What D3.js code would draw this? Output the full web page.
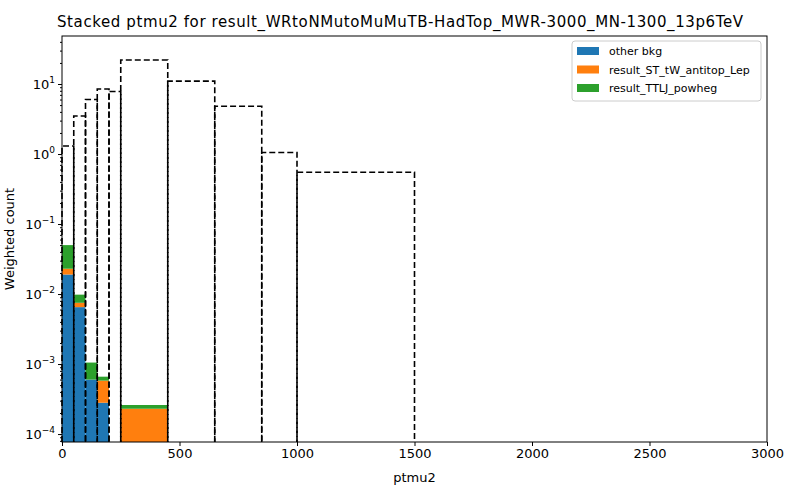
<!DOCTYPE html>
<html><head><meta charset="utf-8">
<script src="https://cdn.jsdelivr.net/npm/d3@7"></script>
<style>body{margin:0;background:#fff;font-family:"DejaVu Sans",sans-serif;}</style>
</head><body><svg id="c" width="800" height="500"></svg>
<script>
const edges = [0, 50, 100, 150, 200, 250, 450, 650, 850, 1000, 1500, 3000];
const otherBkg = [0.019, 0.0065, 0.0006, 0.00028, 0, 0, 0, 0, 0, 0, 0];
const stTW = [0.004, 0.001, 0, 0.0003, 0, 0.00023, 0, 0, 0, 0, 0];
const ttlj = [0.027, 0.0023, 0.00045, 0.00008, 0, 0.00003, 0, 0, 0, 0, 0];
const signal = [1.3, 3.5, 6, 8.5, 7.8, 22, 11, 4.8, 1.05, 0.55, 0];
const seriesNames = ['other bkg', 'result_ST_tW_antitop_Lep', 'result_TTLJ_powheg'];
const colors = ['#1f77b4', '#ff7f0e', '#2ca02c'];

const m = { top: 36, right: 33, bottom: 58, left: 62 };
const W = 800, H = 500;
const svg = d3.select('#c');
const x = d3.scaleLinear().domain([0, 3000]).range([m.left, W - m.right]);
const yMin = 7.7e-5;
const y = d3.scaleLog().domain([yMin, 48.5]).range([H - m.bottom, m.top]);

// stacked bars
const series = [otherBkg, stTW, ttlj];
const base = edges.slice(0, -1).map(() => 0);
series.forEach((vals, s) => {
  vals.forEach((v, i) => {
    if (v <= 0) return;
    const lo = base[i], hi = lo + v;
    base[i] = hi;
    const y0 = lo > 0 ? y(lo) : H - m.bottom;
    svg.append('rect')
      .attr('x', x(edges[i])).attr('width', x(edges[i + 1]) - x(edges[i]))
      .attr('y', y(hi)).attr('height', y0 - y(hi))
      .attr('fill', colors[s]);
  });
});

// signal outlines
signal.forEach((v, i) => {
  if (v <= 0) return;
  const xl = x(edges[i]), xr = x(edges[i + 1]), yb = y(yMin), yt = y(v);
  svg.append('path')
    .attr('d', `M${xl},${yb}V${yt}H${xr}V${yb}`)
    .attr('fill', 'none').attr('stroke', '#000')
    .attr('stroke-width', 1.6).attr('stroke-dasharray', '6,3');
});

// axes
const xa = svg.append('g').attr('transform', `translate(0,${H - m.bottom})`)
  .call(d3.axisBottom(x).tickValues([0, 500, 1000, 1500, 2000, 2500, 3000]).tickFormat(d3.format('d')).tickSizeOuter(0).tickSize(4));
const ya = svg.append('g').attr('transform', `translate(${m.left},0)`)
  .call(d3.axisLeft(y).ticks(10).tickFormat('').tickSizeOuter(0).tickSize(2));
const majors = [-4, -3, -2, -1, 0, 1];
const yb = svg.append('g').attr('transform', `translate(${m.left},0)`)
  .call(d3.axisLeft(y).tickValues(majors.map(e => Math.pow(10, e))).tickFormat('').tickSize(4));
majors.forEach(e => {
  const t = svg.append('text').attr('x', m.left - 7).attr('y', y(Math.pow(10, e)) + 5)
    .attr('text-anchor', 'end').attr('font-size', 13);
  t.append('tspan').text('10');
  t.append('tspan').attr('dy', -6).attr('font-size', 9).text(e < 0 ? '\u2212' + (-e) : e);
});
[xa, ya, yb].forEach(g => { g.select('.domain').remove(); g.selectAll('text').attr('font-size', 13).attr('fill', '#000').attr('font-family', 'DejaVu Sans'); });
svg.append('rect').attr('x', m.left).attr('y', m.top).attr('width', W - m.left - m.right)
  .attr('height', H - m.top - m.bottom).attr('fill', 'none').attr('stroke', '#000');

svg.append('text').attr('x', (m.left + W - m.right) / 2).attr('y', 482).attr('text-anchor', 'middle')
  .attr('font-size', 13).text('ptmu2');
svg.append('text').attr('transform', `translate(10,${(m.top + H - m.bottom) / 2}) rotate(-90)`)
  .attr('text-anchor', 'middle').attr('dominant-baseline', 'middle').attr('font-size', 13).text('Weighted count');
svg.append('text').attr('x', 57).attr('y', 27).attr('text-anchor', 'start')
  .attr('font-size', 15).attr('textLength', 686).text('Stacked ptmu2 for result_WRtoNMutoMuMuTB-HadTop_MWR-3000_MN-1300_13p6TeV');

// legend
const lg = svg.append('g').attr('transform', 'translate(572,41)');
lg.append('rect').attr('width', 189).attr('height', 60).attr('rx', 3)
  .attr('fill', '#fff').attr('stroke', '#ccc');
seriesNames.forEach((n, i) => {
  lg.append('rect').attr('x', 5).attr('y', 6 + i * 18.5).attr('width', 22).attr('height', 8).attr('fill', colors[i]);
  lg.append('text').attr('x', 37).attr('y', 14 + i * 18.5).attr('font-size', 11).text(n);
});
</script></body></html>
